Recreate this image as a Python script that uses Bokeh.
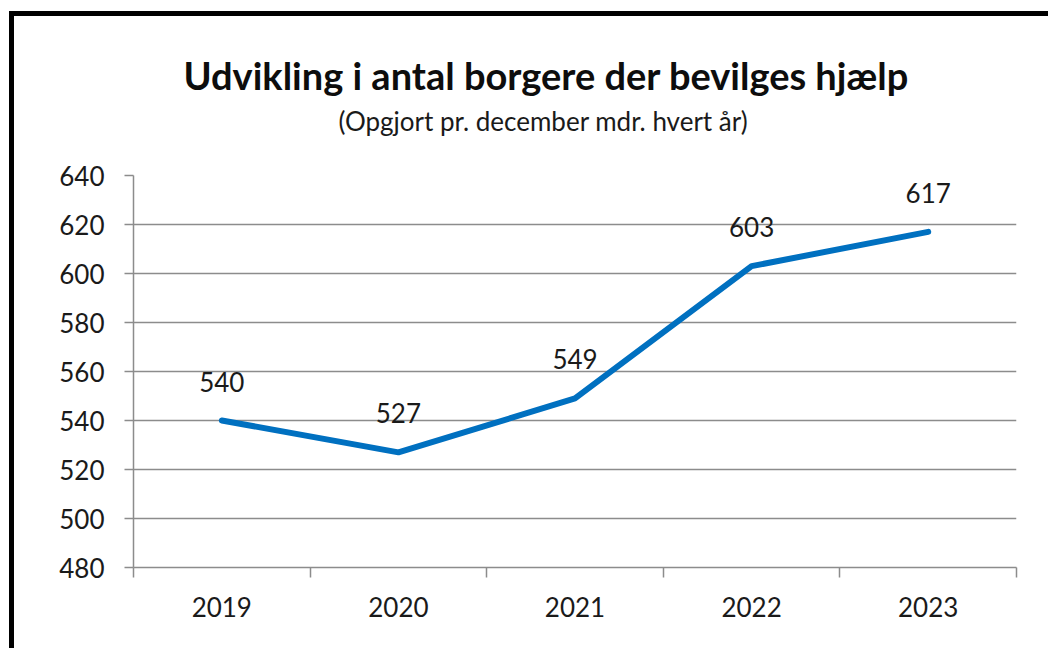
from bokeh.plotting import figure
from bokeh.models import Range1d, FixedTicker, Title, LabelSet, ColumnDataSource
from bokeh.core.properties import value
from bokeh.embed import file_html
from bokeh.resources import INLINE

years = ["2019", "2020", "2021", "2022", "2023"]
values = [540, 527, 549, 603, 617]
y_ticks = [480, 500, 520, 540, 560, 580, 600, 620, 640]
title_text = "Udvikling i antal borgere der bevilges hjælp"
subtitle_text = "(Opgjort pr. december mdr. hvert år)"

FONT = "Lato"
TXT = "#1a1a1a"
GRID = "#8c8c8c"
BLUE = "#0070C0"

pos = list(range(len(years)))
bounds = [i - 0.5 for i in range(len(years) + 1)]

p = figure(width=1039, height=637, output_backend="svg", toolbar_location=None,
           x_range=Range1d(-0.5, len(years) - 0.5), y_range=Range1d(y_ticks[0], y_ticks[-1]),
           min_border_left=119, min_border_right=37, min_border_top=159, min_border_bottom=86)
p.styles = {"border-left": "5px solid black", "border-top": "5px solid black",
            "margin-left": "9px", "margin-top": "11px"}
p.outline_line_color = None
p.background_fill_color = "white"
p.border_fill_color = "white"

# main title (outermost panel)
p.title.text = title_text
p.title.align = "left"
p.title.offset = 50
p.title.standoff = 9
p.title.text_font = FONT
p.title.text_font_size = "38px"
p.title.text_font_style = "bold"
p.title.text_color = "#0d0d0d"
# blank spacer panel next to the plot, then the subtitle above it
p.add_layout(Title(text=" ", standoff=25, text_font=FONT, text_font_size="10px"), "above")
p.add_layout(Title(text=subtitle_text, align="left", offset=205, standoff=0,
                   text_font=FONT, text_font_size="26px", text_font_style="normal",
                   text_color=TXT), "above")

# x axis
xa = p.xaxis[0]
xa.ticker = FixedTicker(ticks=pos, minor_ticks=bounds)
xa.major_label_overrides = {i: y for i, y in zip(pos, years)}
xa.major_tick_line_color = None
xa.major_tick_out = 10
xa.major_tick_in = 0
xa.minor_tick_line_color = GRID
xa.minor_tick_line_width = 1.5
xa.minor_tick_out = 10
xa.minor_tick_in = 0
xa.axis_line_color = GRID
xa.axis_line_width = 1.5
xa.major_label_standoff = 19
xa.major_label_text_font = FONT
xa.major_label_text_font_size = "26px"
xa.major_label_text_color = TXT

# y axis
ya = p.yaxis[0]
ya.ticker = FixedTicker(ticks=y_ticks)
ya.major_tick_out = 9
ya.major_tick_in = 0
ya.major_tick_line_color = GRID
ya.major_tick_line_width = 1.5
ya.minor_tick_line_color = None
ya.axis_line_color = GRID
ya.axis_line_width = 1.5
ya.major_label_standoff = 20
ya.major_label_text_font = FONT
ya.major_label_text_font_size = "26px"
ya.major_label_text_color = TXT

p.xgrid.grid_line_color = None
p.ygrid.ticker = FixedTicker(ticks=y_ticks)
p.ygrid.grid_line_color = GRID
p.ygrid.grid_line_width = 1.5

src = ColumnDataSource(dict(x=pos, y=values, label=[str(v) for v in values]))
p.line(x="x", y="y", source=src, line_width=6, line_color=BLUE,
       line_cap="round", line_join="round")

p.add_layout(LabelSet(x="x", y="y", text="label", source=src, y_offset=29,
                      text_align="center", text_baseline="alphabetic",
                      text_font=value(FONT), text_font_size="26px", text_color=TXT))

open("out.html", "w").write(file_html(p, INLINE))
